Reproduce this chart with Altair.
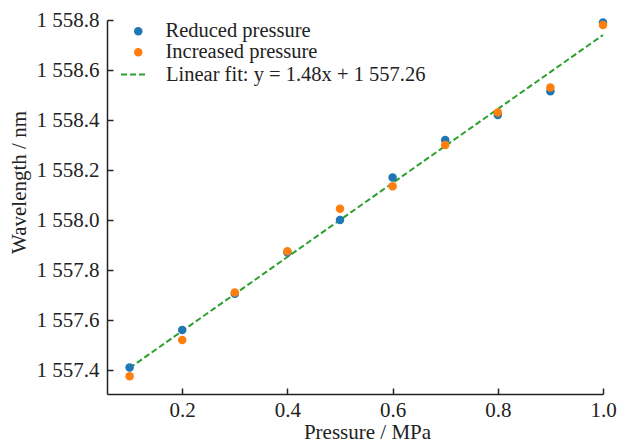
import altair as alt
import pandas as pd

# ---- data ----
pressure = [0.1, 0.2, 0.3, 0.4, 0.5, 0.6, 0.7, 0.8, 0.9, 1.0]
reduced = [1557.41, 1557.56, 1557.705, 1557.87, 1558.00, 1558.17, 1558.32, 1558.42, 1558.515, 1558.79]
increased = [1557.375, 1557.52, 1557.71, 1557.875, 1558.045, 1558.135, 1558.30, 1558.43, 1558.53, 1558.78]
fit_x = [0.1, 1.0]
fit_y = [1557.408, 1558.74]
series_names = ["Reduced pressure", "Increased pressure"]
series_colors = ["#1f77b4", "#ff7f0e"]
fit_name = "Linear fit: y = 1.48x + 1 557.26"
x_ticks = [0.2, 0.4, 0.6, 0.8, 1.0]
y_ticks = [1557.4, 1557.6, 1557.8, 1558.0, 1558.2, 1558.4, 1558.6, 1558.8]

FONT = "Liberation Serif"
INK = "#222222"

pts = pd.DataFrame({
    "pressure": pressure + pressure,
    "wavelength": reduced + increased,
    "series": [series_names[0]] * len(pressure) + [series_names[1]] * len(pressure),
})
fit = pd.DataFrame({"pressure": fit_x, "wavelength": fit_y, "fit": [fit_name] * len(fit_x)})

xscale = alt.Scale(domain=[0.057, 1.0], nice=False, zero=False)
yscale = alt.Scale(domain=[1557.304, 1558.8], nice=False, zero=False)
ylabel = "'1 ' + format(datum.value - 1000, '.1f')"

points = alt.Chart(pts).mark_circle(size=72, opacity=1).encode(
    x=alt.X("pressure:Q", scale=xscale,
            axis=alt.Axis(values=x_ticks, orient="bottom", format=".1f", ticks=False, labelPadding=5,
                          labelFlush=False, title="Pressure / MPa", titleX=260, titleY=44,
                          titleBaseline="alphabetic", titleFont=FONT, labelFont=FONT)),
    y=alt.Y("wavelength:Q", scale=yscale,
            axis=alt.Axis(values=y_ticks, orient="left", labelExpr=ylabel, ticks=False, labelPadding=8,
                          labelFlush=False, title="Wavelength / nm", titleY=162, titlePadding=7,
                          titleFont=FONT, labelFont=FONT)),
    color=alt.Color("series:N", scale=alt.Scale(domain=series_names, range=series_colors),
                    legend=alt.Legend(orient="none", legendX=21, legendY=1, title=None,
                                      symbolType="circle", symbolSize=72, labelOffset=17,
                                      rowPadding=-2, padding=0, labelLimit=400,
                                      labelFontSize=20.5)),
)

line = alt.Chart(fit).mark_line(color="#2ca02c", strokeWidth=2).encode(
    x=alt.X("pressure:Q", scale=xscale,
            axis=alt.Axis(values=x_ticks, orient="bottom", offset=-6, tickSize=6, tickWidth=1.5,
                          tickColor=INK, labels=False, domain=False, title=None, grid=False)),
    y=alt.Y("wavelength:Q", scale=yscale,
            axis=alt.Axis(values=y_ticks, orient="left", offset=-6, tickSize=6, tickWidth=1.5,
                          tickColor=INK, labels=False, domain=False, title=None, grid=False)),
    strokeDash=alt.StrokeDash("fit:N", scale=alt.Scale(domain=[fit_name], range=[[6, 3]]),
                              legend=alt.Legend(orient="none", legendX=13, legendY=40, title=None,
                                                symbolType="stroke", symbolSize=729,
                                                symbolStrokeColor="#2ca02c", symbolStrokeWidth=2,
                                                labelOffset=17, padding=0, labelLimit=400,
                                                labelFontSize=20.5)),
)

chart = alt.layer(line, points).resolve_axis(x="independent", y="independent").resolve_legend(
    color="independent", strokeDash="independent"
).properties(
    width=496, height=374,
    background="white",
    autosize=alt.AutoSizeParams(type="none"),
    padding={"left": 107, "top": 20, "right": 17, "bottom": 48},
).configure_view(stroke=None).configure_axis(
    grid=False, labelFont=FONT, titleFont=FONT, labelFontSize=21, titleFontSize=21,
    labelColor=INK, titleColor=INK, titleFontWeight="normal", domainColor=INK, domainWidth=1.5,
).configure_legend(
    labelFont=FONT, labelFontSize=20.5, labelColor=INK,
)

chart.save("out.html", embed_options={"renderer": "svg", "actions": False})
